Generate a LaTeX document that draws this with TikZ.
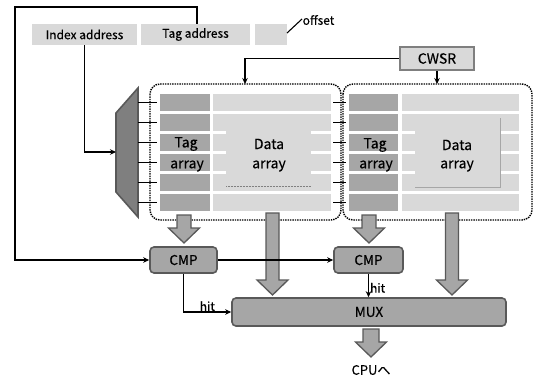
\documentclass[tikz,border=0pt]{standalone}
\usepackage{fontspec}
\setmainfont{Noto Sans CJK JP}[FakeBold=0.3]
\usetikzlibrary{arrows.meta}
\definecolor{lg}{HTML}{D9D9D9}
\definecolor{mg}{HTML}{A6A6A6}
\definecolor{dg}{HTML}{595959}
\definecolor{decg}{HTML}{7F7F7F}
\tikzset{
  addr/.style={fill=lg, inner sep=0pt, minimum height=21pt, font=\fontsize{12}{13}\selectfont},
  blk/.style={draw=black, densely dotted, line width=1.4pt, rounded corners=10pt, fill=white},
  proc/.style={fill=mg, draw=dg, line width=1.6pt, rounded corners=4pt, inner sep=0pt, font=\fontsize{13.5}{14}\selectfont},
  wire/.style={line width=1.1pt, -{Stealth[length=6pt,width=5.5pt]}},
  plain/.style={line width=1.1pt},
  fat/.style={fill=mg, draw=dg, line width=1.3pt, line join=miter},
  tick/.style={line width=1.4pt},
  arr/.style={font=\fontsize{14}{15}\selectfont},
  lbl/.style={font=\fontsize{12}{13}\selectfont, inner sep=1pt}
}
\newcommand{\fatarrow}[6]{% cx, top, headstart, tip, shafthalf, headhalf
  \draw[fat] (#1-#5,#2) -- (#1+#5,#2) -- (#1+#5,#3) -- (#1+#6,#3) -- (#1,#4)
    -- (#1-#6,#3) -- (#1-#5,#3) -- cycle;}
\begin{document}
\begin{tikzpicture}[x=1pt,y=-1pt]
\useasboundingbox (0,0) rectangle (533,381);

% address fields
\node[addr, minimum width=105pt] (idx) at (84.5,34.5) {Index address};
\node[addr, minimum width=109pt] (tag) at (195.5,34.5) {Tag address};
\node[addr, minimum width=32pt] (off) at (271,34.5) {};
\coordinate (offa) at (287,33);
\coordinate (offb) at (302,19);
\draw[plain] (offa) -- (offb);
\node[lbl, anchor=west, inner sep=0.5pt] (offt) at (302,20) {offset};

% cache blocks
\draw[blk] (150,84) rectangle (341,220);
\draw[blk] (343,84) rectangle (532,220);
\coordinate (b1top) at (245,84);
\coordinate (b2top) at (437,84);

% rows
\foreach \i in {0,...,5}{
  \fill[mg] (160,94+20*\i) rectangle (210,111+20*\i);
  \fill[lg] (213,94+20*\i) rectangle (331,111+20*\i);
  \fill[mg] (349,94+20*\i) rectangle (398,111+20*\i);
  \fill[lg] (402,94+20*\i) rectangle (519,111+20*\i);
}
% data array overlays
\fill[lg] (226,131) rectangle (311,187);
\draw[gray, densely dotted, line width=0.5pt] (226,186.5) -- (311,186.5);
\fill[lg] (415,118) rectangle (500,187);
\draw[black!35, line width=0.7pt] (500,118) -- (500,187) -- (415,187);

\node[arr] (t1a) at (186,144) {Tag};
\node[arr] (t1b) at (187,166) {array};
\node[arr] (d1a) at (269,144) {Data};
\node[arr] (d1b) at (269,166) {array};
\node[arr] (t2a) at (375,145) {Tag};
\node[arr] (t2b) at (376,166) {array};
\node[arr] (d2a) at (457,145) {Data};
\node[arr] (d2b) at (457,166) {array};

% decoder
\draw[fill=decg, draw=dg, line width=1.6pt, line join=miter] (116,113) -- (138,88) -- (138,217) -- (116,192) -- cycle;
\coordinate (dec) at (116,152);
\foreach \i in {0,...,5}{
  \draw[tick] (138,102.5+20*\i) -- (157,102.5+20*\i);
  \draw[tick] (333,102.5+20*\i) -- (346,102.5+20*\i);
}

% CWSR
\node[fill=lg, draw=decg, line width=1.6pt, minimum width=74pt, minimum height=23pt, inner sep=0pt, font=\fontsize{14}{15}\selectfont] (cwsr) at (437,58.5) {CWSR};

% processing nodes
\node[proc, minimum width=67pt, minimum height=26pt] (cmp1) at (183.5,260) {CMP};
\node[proc, minimum width=69pt, minimum height=26pt] (cmp2) at (368.5,260) {CMP};
\node[proc, minimum width=274pt, minimum height=28pt] (mux) at (369,312) {MUX};
\node[font=\fontsize{13}{14}\selectfont] (cpu) at (371,370) {CPUへ};

% fat arrows
\fatarrow{184}{215}{228}{243}{7}{15.5}
\fatarrow{272.5}{213}{280}{295}{6.5}{15.5}
\fatarrow{369}{215}{228}{243}{7}{15.5}
\fatarrow{452}{213}{280}{295}{6.5}{15.5}
\fatarrow{371}{329}{342}{357}{8}{15.5}

% wires
\draw[wire] (tag.north -| 197,0) -- (197,7) -- (15,7) |- (cmp1.west);
\draw[wire] (idx.south) |- (dec);
\draw[wire] (cwsr.west) -| (b1top);
\draw[wire] (cwsr.south) -- (b2top);
\draw[wire] (cmp1.east) -- (cmp2.west);
\draw[wire] (cmp1.south) |- (mux.west) node[lbl, pos=0.75, above, inner sep=0.5pt] {hit};
\draw[wire] (cmp2.south) -- (cmp2.south |- mux.north) node[lbl, pos=0.6, right, inner sep=1pt] {hit};
\end{tikzpicture}
\end{document}
